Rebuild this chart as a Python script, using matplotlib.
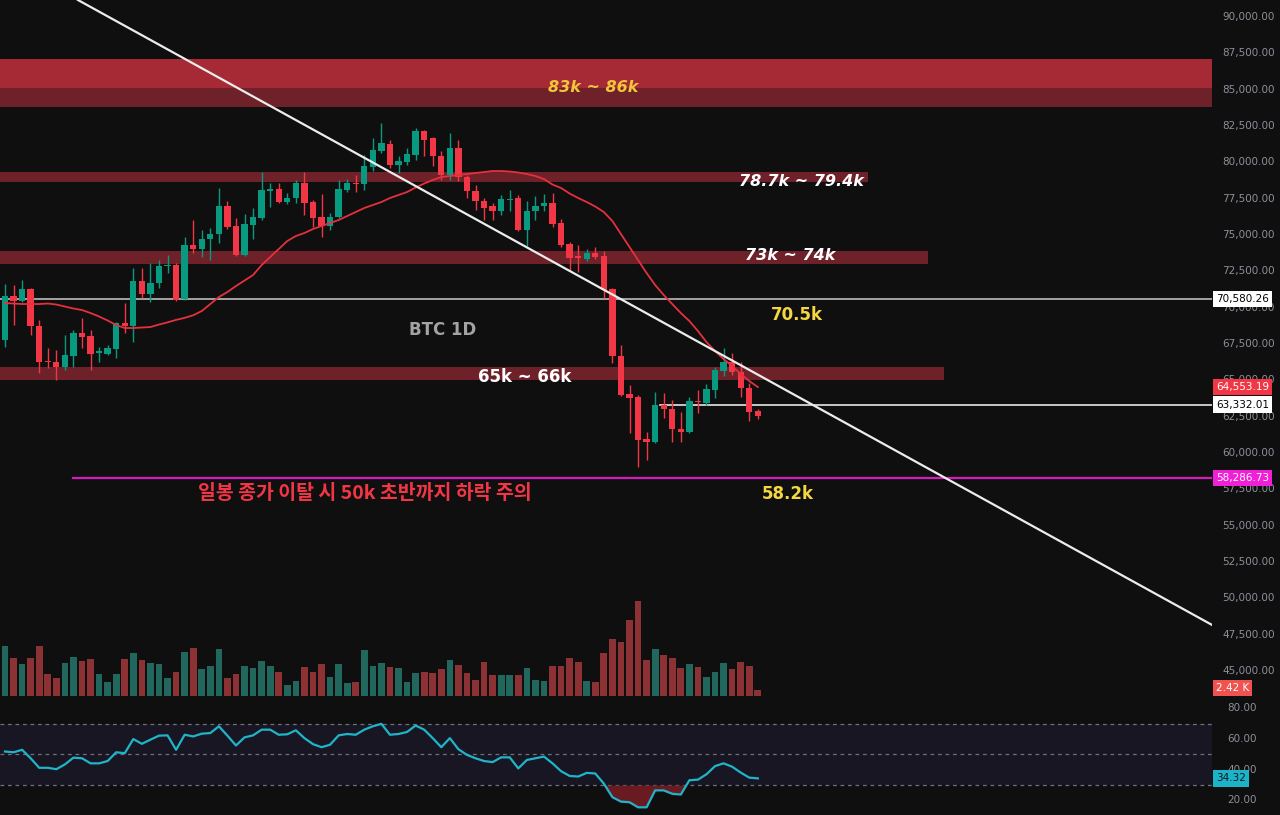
import numpy as np
import matplotlib
matplotlib.use("Agg")
import matplotlib.pyplot as plt
import matplotlib.transforms as mtransforms

# ---------------- data ----------------
opens = [67778, 70805, 70460, 71287, 68741, 66330, 66264, 65920, 66677, 68260,
         68053, 66884, 66815, 67159, 68947, 68741, 71837, 70943, 71700, 72869,
         72938, 70599, 74314, 74039, 74727, 75071, 76997, 75622, 73626, 75690,
         76172, 78030, 78167, 77272, 77547, 78580, 77272, 76240, 75622, 76240,
         78098, 78580, 78511, 79680, 80781, 81262, 79818, 80024, 80506, 82157,
         81675, 80437, 79130, 80987, 78992, 78030, 77341, 76997, 76653, 77410,
         77547, 75346, 76653, 76997, 77203, 75828, 74383, 73557, 73351, 73764,
         73557, 71287, 66677, 64063, 63856, 60966, 60760, 63306, 63031, 61655,
         61449, 63581, 63444, 64338, 65645, 66264, 65576, 64476, 62893]
highs = [71631, 71560, 71906, 71356, 69154, 67227, 67090, 68122, 68466, 69292,
         68466, 67296, 67434, 69016, 70324, 72731, 72731, 73076, 73282, 73626,
         73076, 74864, 76034, 75346, 75484, 78236, 77341, 76172, 76447, 76860,
         79336, 78580, 78580, 77891, 78786, 79336, 77410, 77822, 76516, 78786,
         78855, 79130, 80506, 81675, 82707, 81538, 80437, 80987, 82363, 82226,
         81744, 80781, 82020, 81538, 79130, 78442, 77547, 77203, 77754, 78098,
         77754, 77341, 77685, 77822, 77891, 76103, 74520, 74314, 74039, 74177,
         73901, 71356, 67434, 64682, 63994, 61449, 64200, 64131, 63650, 62825,
         63856, 64338, 64751, 65920, 67227, 66884, 66264, 64820, 63031]
lows = [67296, 68810, 70391, 68122, 65508, 65850, 65026, 65714, 65920, 67227,
        65714, 66264, 66746, 66540, 68260, 67640, 70668, 70391, 71356, 72388,
        70460, 70530, 73764, 73488, 73282, 74452, 75415, 73557, 73557, 74727,
        76034, 76928, 77203, 77134, 77203, 76378, 75553, 74864, 75346, 76172,
        77960, 77960, 78098, 79405, 80643, 79612, 79267, 79818, 80162, 80437,
        79749, 78786, 78786, 78717, 77547, 76722, 76034, 76034, 76378, 76653,
        75277, 74245, 76034, 76653, 75553, 74177, 72594, 72456, 73213, 73351,
        70668, 66195, 63925, 61380, 59040, 59522, 60692, 62412, 60760, 60760,
        61380, 62756, 63306, 63788, 65301, 65370, 63856, 62205, 62343]
closes = [70805, 70460, 71287, 68741, 66264, 66264, 65920, 66746, 68260, 67985,
          66815, 67020, 67227, 68947, 68741, 71837, 70943, 71700, 72869, 72938,
          70530, 74314, 74039, 74727, 75071, 76997, 75553, 73626, 75759, 76240,
          78098, 78167, 77272, 77547, 78580, 77203, 76172, 75622, 76240, 78167,
          78580, 78511, 79749, 80850, 81331, 79818, 80093, 80575, 82157, 81538,
          80437, 79130, 80987, 78992, 78030, 77341, 76860, 76653, 77479, 77479,
          75346, 76653, 76997, 77203, 75759, 74314, 73419, 73419, 73764, 73488,
          71218, 66677, 63994, 63788, 60898, 60760, 63306, 63031, 61655, 61449,
          63581, 63512, 64407, 65714, 66264, 65576, 64476, 62825, 62550]
volumes_k = [20.2, 15.3, 12.9, 15.3, 20.2, 8.9, 7.3, 13.3, 15.7, 14.1,
             14.9, 8.9, 5.6, 8.9, 14.9, 17.3, 14.5, 13.3, 12.9, 7.3,
             9.7, 17.7, 19.3, 10.9, 12.1, 18.9, 7.3, 8.9, 12.1, 11.3,
             14.1, 12.1, 9.7, 4.4, 6.0, 11.7, 9.7, 12.9, 7.7, 12.9,
             5.2, 5.6, 18.5, 12.1, 13.3, 11.7, 11.3, 5.6, 9.3, 9.7,
             9.3, 10.9, 14.5, 12.5, 9.3, 6.4, 13.7, 8.5, 8.5, 8.5,
             8.5, 11.3, 6.4, 6.0, 12.1, 12.1, 15.3, 13.7, 6.0, 5.6,
             17.3, 23.0, 21.8, 30.6, 38.3, 14.5, 18.9, 16.5, 15.3, 11.3,
             12.9, 11.7, 7.7, 9.7, 13.3, 10.9, 13.7, 12.1, 2.42]
ma_line = [70320, 70286, 70251, 70251, 70251, 70286, 70217, 70079, 69942, 69839,
           69633, 69392, 69116, 68807, 68600, 68600, 68635, 68669, 68840, 68990,
           69160, 69300, 69480, 69770, 70251, 70733, 71077, 71490, 71868, 72247,
           72935, 73486, 74036, 74587, 74931, 75137, 75413, 75619, 75825, 76032,
           76307, 76582, 76857, 77064, 77270, 77545, 77752, 77958, 78268, 78543,
           78784, 78990, 79059, 79128, 79197, 79266, 79334, 79403, 79403, 79369,
           79300, 79197, 79059, 78853, 78474, 78234, 77855, 77545, 77270, 76960,
           76582, 75963, 75068, 74174, 73279, 72385, 71559, 70871, 70251, 69633,
           69082, 68394, 67637, 67018, 66467, 65986, 65435, 64954, 64541]
rsi = [51.8, 51.3, 52.9, 47.4, 41.2, 41.2, 40.3, 43.4, 47.8, 47.4,
       44.1, 44.1, 45.6, 51.3, 50.7, 59.9, 56.8, 59.5, 62.1, 62.3,
       52.9, 62.7, 61.6, 63.4, 63.8, 68.2, 62.1, 55.7, 61.0, 62.3,
       66.0, 66.0, 62.7, 63.0, 65.6, 60.5, 56.6, 54.6, 56.2, 62.3,
       63.2, 62.7, 66.0, 68.2, 69.8, 62.7, 63.2, 64.5, 68.7, 66.0,
       60.5, 54.6, 60.5, 53.3, 49.6, 47.4, 45.6, 44.9, 48.0, 48.0,
       40.8, 46.3, 47.4, 48.5, 44.1, 39.0, 35.9, 35.5, 37.9, 37.5,
       30.9, 22.1, 19.2, 18.8, 15.5, 15.5, 26.5, 26.5, 24.3, 23.8,
       33.1, 33.5, 37.0, 42.3, 44.1, 41.9, 38.1, 34.8, 34.32]

# horizontal zones (price low, price high, end bar index)
zone_top_upper = (85094, 87089)
zone_top_lower = (83828, 85094)
zone_787 = (78650, 79360, 100.9)
zone_73 = (73000, 73910, 107.9)
zone_65 = (65020, 65900, 109.8)
level_705 = 70580.26
level_633 = 63332.01
level_633_start = 76.6
level_582 = 58286.73
level_582_start = 7.95
trend_p1 = (8.53, 91170)
trend_p2 = (109.9, 58290)
last_ma_label = 64553.19
last_vol_label = "2.42 K"
last_rsi_label = "34.32"
price_ticks = list(range(45000, 90001, 2500))
rsi_ticks = [80, 60, 40, 20]

# ---------------- style ----------------
BG = "#0f0f0f"
UP = "#089981"
DN = "#f23645"
VUP = "#22675e"
VDN = "#8c3235"
TXT = "#8d909a"

W, H = 1280, 815
fig = plt.figure(figsize=(W / 100, H / 100), dpi=100, facecolor=BG)
plot_w = 1212 / W
ax = fig.add_axes([0, 1 - 700 / H, plot_w, 700 / H])
axr = fig.add_axes([0, 0, plot_w, 115 / H])
axv = ax.twinx()

n = len(closes)
x = np.arange(n)
xlim = (-0.584, 141.09)

for a in (ax, axr, axv):
    a.set_xlim(*xlim)
    a.axis("off")
ax.set_ylim(43007, 91170)
axr.set_ylim(10.5, 85.3)
axv.set_ylim(-1.61, 280.5)
ax.set_zorder(axv.get_zorder() + 1)
ax.patch.set_visible(False)
axv.patch.set_facecolor(BG)
axr.set_facecolor(BG)

o = np.array(opens, float)
c = np.array(closes, float)
h = np.array(highs, float)
l = np.array(lows, float)
up = c >= o
cols = np.where(up, UP, DN)

# zones
ax.axhspan(*zone_top_upper, color="#a52a35", lw=0, zorder=1)
ax.axhspan(*zone_top_lower, color="#6e2128", lw=0, zorder=1)
for lo, hi, end in (zone_787, zone_73, zone_65):
    ax.fill_between([xlim[0], end], lo, hi, color="#6e2129", lw=0, zorder=1)

# levels
ax.axhline(level_705, color="#bdbdbd", lw=1.2, zorder=2)
ax.plot([level_633_start, xlim[1]], [level_633, level_633], color="#e6e6e6", lw=1.2, zorder=2)
ax.plot([level_582_start, xlim[1]], [level_582, level_582], color="#d21cbe", lw=1.6, zorder=2)

# volume
axv.bar(x, volumes_k, width=0.78, color=np.where(up, VUP, VDN), lw=0)

# candles
ax.vlines(x, l, h, colors=cols, lw=1.0, zorder=4)
min_h = 70
body_lo = np.minimum(o, c)
body_h = np.maximum(np.abs(c - o), min_h)
ax.bar(x, body_h, bottom=body_lo, width=0.74, color=cols, lw=0, zorder=5)

# MA
ax.plot(x, ma_line, color="#e5303d", lw=1.3, zorder=6)

# trendline
ax.axline(trend_p1, trend_p2, color="#ececec", lw=1.6, zorder=7)

# annotations
def bar_x(px):
    return (px - 5) / 8.555

def price_y(py):
    return 90000 - (py - 17) * 68.81

ax.text(bar_x(593), price_y(87), "83k ~ 86k", color="#f0c63a", fontsize=11.5,
        fontweight="bold", fontstyle="italic", ha="center", va="center", zorder=8)
ax.text(bar_x(801), price_y(181), "78.7k ~ 79.4k", color="white", fontsize=11.5,
        fontweight="bold", fontstyle="italic", ha="center", va="center", zorder=8)
ax.text(bar_x(790), price_y(255), "73k ~ 74k", color="white", fontsize=11.5,
        fontweight="bold", fontstyle="italic", ha="center", va="center", zorder=8)
ax.text(bar_x(797), price_y(315), "70.5k", color="#f5d742", fontsize=12,
        fontweight="bold", ha="center", va="center", zorder=8)
ax.text(bar_x(443), price_y(330), "BTC 1D", color="#a3a3a3", fontsize=12,
        fontweight="bold", ha="center", va="center", zorder=8)
ax.text(bar_x(525), price_y(377), "65k ~ 66k", color="white", fontsize=12,
        fontweight="bold", ha="center", va="center", zorder=8)
ax.text(bar_x(365), price_y(493), "일봉 종가 이탈 시 50k 초반까지 하락 주의", color="#f23645",
        fontsize=14, fontweight="bold", ha="center", va="center", zorder=8,
        family=["Noto Sans CJK KR", "DejaVu Sans"])
ax.text(bar_x(788), price_y(494), "58.2k", color="#f5d742", fontsize=12,
        fontweight="bold", ha="center", va="center", zorder=8)

# RSI pane
axr.axhspan(30, 70, color="#191623", lw=0, zorder=1)
for lvl in (70, 50, 30):
    axr.axhline(lvl, color="#6d707a", lw=0.9, ls=(0, (3, 3)), zorder=2)
r = np.array(rsi)
axr.fill_between(x, r, 30, where=r < 30, interpolate=True, color="#6a1b21", lw=0, zorder=2)
axr.plot(x, r, color="#1fb5c9", lw=1.6, zorder=3)

# right axis labels
tp = mtransforms.blended_transform_factory(fig.transFigure, ax.transData)
tr = mtransforms.blended_transform_factory(fig.transFigure, axr.transData)
tv = mtransforms.blended_transform_factory(fig.transFigure, axv.transData)
lx = 1222 / W
for p in price_ticks:
    fig.text(lx, p, f"{p:,.2f}", transform=tp, color=TXT, fontsize=7.5, va="center", ha="left")
for p in rsi_ticks:
    fig.text(lx + 0.004, p, f"{p:.2f}", transform=tr, color=TXT, fontsize=7.5, va="center", ha="left")

bx = 1216 / W
def tag(y, s, fc, tc, trans):
    fig.text(bx, y, s, transform=trans, color=tc, fontsize=7.5, va="center", ha="left",
             bbox=dict(boxstyle="square,pad=0.3", fc=fc, ec="none"))

tag(level_705, f"{level_705:,.2f}", "white", "black", tp)
tag(last_ma_label, f"{last_ma_label:,.2f}", "#f23645", "white", tp)
tag(level_633, f"{level_633:,.2f}", "white", "black", tp)
tag(level_582, f"{level_582:,.2f}", "#f21fd9", "white", tp)
tag(volumes_k[-1] + 0.8, last_vol_label, "#ef5350", "white", tv)
tag(rsi[-1], last_rsi_label, "#1cb3c8", "#131722", tr)

fig.savefig("out.png", dpi=100, facecolor=BG)
